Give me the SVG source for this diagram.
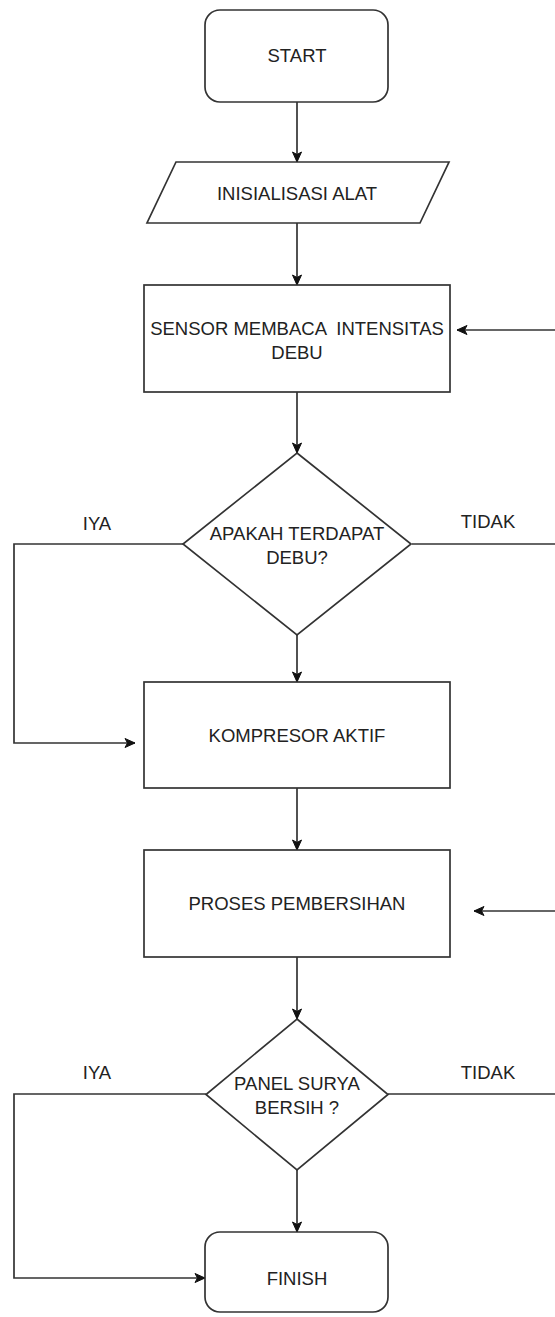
<svg xmlns="http://www.w3.org/2000/svg" width="555" height="1317" viewBox="0 0 555 1317">
<style>
.shape{fill:#ffffff;stroke:#333333;stroke-width:1.7}
.conn{fill:none;stroke:#333333;stroke-width:1.7}
.arr{marker-end:url(#ah)}
text{font-family:"Liberation Sans",Arial,Helvetica,sans-serif;font-size:18.5px;fill:#222222;text-anchor:middle;white-space:pre}
</style>
<defs>
<marker id="ah" markerUnits="userSpaceOnUse" markerWidth="12" markerHeight="12" viewBox="0 0 12 12" refX="11" refY="6" orient="auto">
<path d="M1,1.5 L11,6 L1,10.5 L3.5,6 Z" fill="#111111" stroke="#111111" stroke-width="1"/>
</marker>
</defs>
<rect width="555" height="1317" fill="#ffffff"/>
<g id="connectors">
<path class="conn arr" d="M297,102 V162"/>
<path class="conn arr" d="M297,223 V285"/>
<path class="conn arr" d="M297,392 V453"/>
<path class="conn arr" d="M297,635 V682"/>
<path class="conn arr" d="M183,544 H14 V743 H135"/>
<path class="conn" d="M412,544 H555"/>
<path class="conn arr" d="M555,330 H457"/>
<path class="conn arr" d="M297,788 V850"/>
<path class="conn arr" d="M555,911 H474"/>
<path class="conn arr" d="M297,957 V1019"/>
<path class="conn arr" d="M297,1170 V1232"/>
<path class="conn arr" d="M206,1094 H14 V1278 H205"/>
<path class="conn" d="M388,1094 H555"/>
<text x="97" y="529.5">IYA</text>
<text x="488" y="527.5">TIDAK</text>
<text x="97" y="1078.5">IYA</text>
<text x="488" y="1078.5">TIDAK</text>
</g>
<g id="start">
<rect class="shape" x="205" y="10" width="183" height="92" rx="15" ry="15"/>
<text x="297" y="61.5">START</text>
</g>
<g id="inisialisasi">
<polygon class="shape" points="176,162 449,162 420,223 147,223"/>
<text x="297" y="199.5">INISIALISASI ALAT</text>
</g>
<g id="sensor">
<rect class="shape" x="144" y="285" width="306" height="107"/>
<text x="297" y="334.5" xml:space="preserve">SENSOR MEMBACA  INTENSITAS</text>
<text x="297" y="358.5">DEBU</text>
</g>
<g id="cek-debu">
<polygon class="shape" points="297,453 411,544 297,635 183,544"/>
<text x="297" y="539.5">APAKAH TERDAPAT</text>
<text x="297" y="563.5">DEBU?</text>
</g>
<g id="kompresor">
<rect class="shape" x="144" y="682" width="306" height="106"/>
<text x="297" y="741.5">KOMPRESOR AKTIF</text>
</g>
<g id="pembersihan">
<rect class="shape" x="144" y="850" width="306" height="107"/>
<text x="297" y="909.5">PROSES PEMBERSIHAN</text>
</g>
<g id="cek-bersih">
<polygon class="shape" points="297,1019 388,1094.5 297,1170 206,1094.5"/>
<text x="297" y="1089.5">PANEL SURYA</text>
<text x="297" y="1113.5">BERSIH ?</text>
</g>
<g id="finish">
<rect class="shape" x="205" y="1232" width="183" height="80" rx="15" ry="15"/>
<text x="297" y="1284.5">FINISH</text>
</g>
</svg>
